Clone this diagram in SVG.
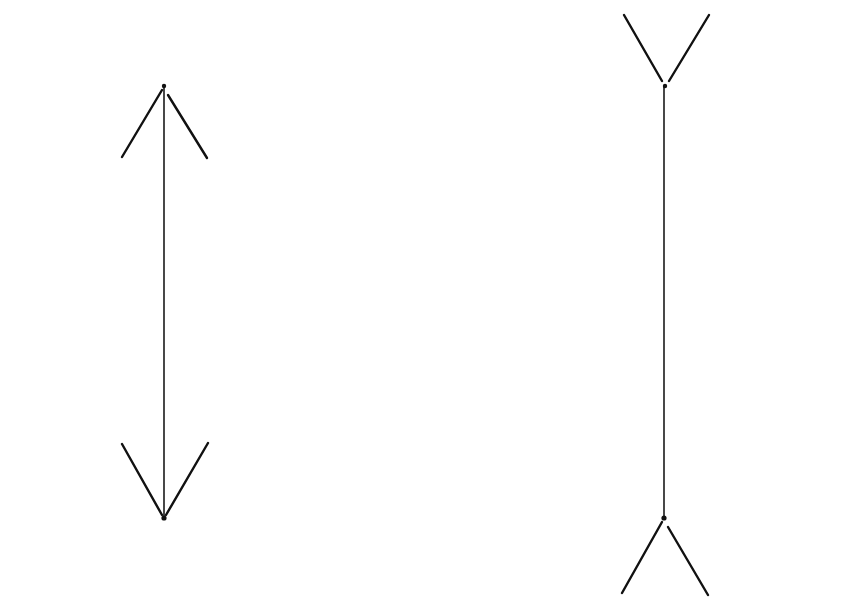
<svg xmlns="http://www.w3.org/2000/svg" width="857" height="604" viewBox="0 0 857 604">
<style>
.shaft{stroke:#1a1a1a;stroke-width:1.6;fill:none}
.fin{stroke:#111;stroke-width:2.4;fill:none;stroke-linecap:round}
.dot{fill:#111}
</style>
<rect width="857" height="604" fill="#fff"/>
<g id="connectors">
<line class="shaft" x1="164" y1="86" x2="164" y2="517"/>
<line class="shaft" x1="664" y1="86" x2="664" y2="517"/>
</g>
<g id="left-figure">
<circle class="dot" cx="164" cy="86" r="2.2"/>
<circle class="dot" cx="164" cy="518" r="2.6"/>
<line class="fin" x1="162" y1="90" x2="122" y2="157"/>
<line class="fin" x1="168" y1="95" x2="207" y2="158"/>
<line class="fin" x1="122" y1="444" x2="162" y2="515"/>
<line class="fin" x1="208" y1="443" x2="166" y2="515"/>
</g>
<g id="right-figure">
<circle class="dot" cx="665" cy="86" r="2.2"/>
<circle class="dot" cx="664" cy="518" r="2.6"/>
<line class="fin" x1="624" y1="15" x2="662" y2="81"/>
<line class="fin" x1="709" y1="15" x2="669" y2="81"/>
<line class="fin" x1="662" y1="522" x2="622" y2="593"/>
<line class="fin" x1="668" y1="527" x2="708" y2="595"/>
</g>
</svg>
